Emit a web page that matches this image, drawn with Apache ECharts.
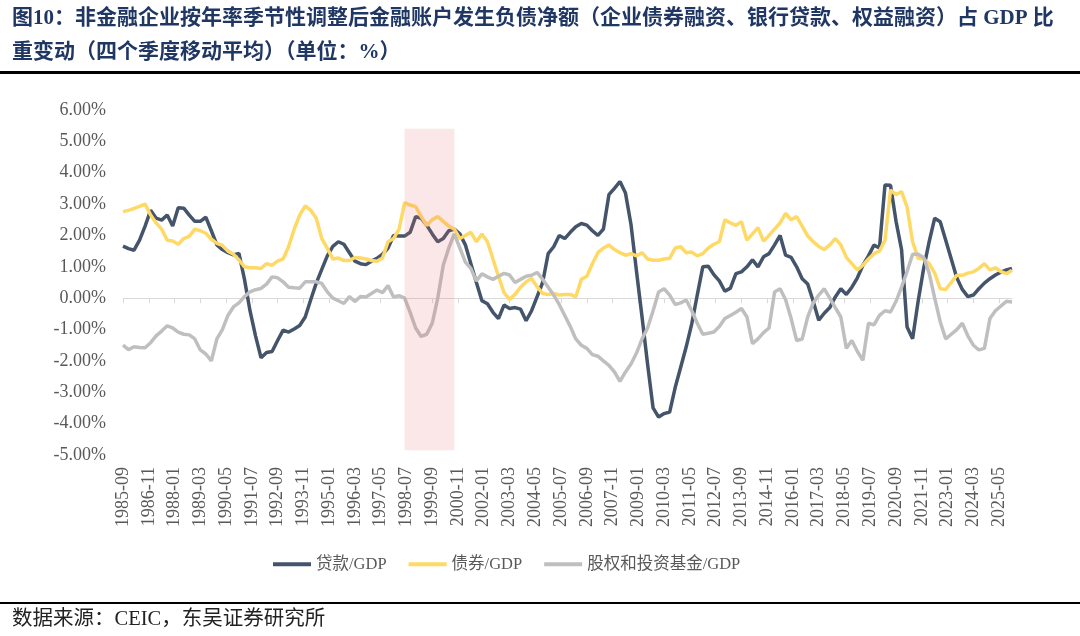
<!DOCTYPE html>
<html>
<head>
<meta charset="utf-8">
<script src="https://cdn.jsdelivr.net/npm/echarts@6/dist/echarts.min.js"></script>
<style>
  html, body { margin: 0; padding: 0; background: #fff; }
  #main { width: 1080px; height: 636px; }
</style>
</head>
<body>
<div id="main"></div>
<script>
// quarterly values (%), 1985-09 ... 2025-12, four-quarter moving average
const loanGdp = [
  1.66, 1.58, 1.53, 1.85, 2.3, 2.8, 2.55, 2.49, 2.65, 2.3,
  2.88, 2.87, 2.65, 2.45, 2.45, 2.58, 2.15, 1.7, 1.55, 1.45,
  1.38, 1.43, 0.6, -0.4, -1.2, -1.9, -1.73, -1.7, -1.35, -1.02,
  -1.08, -0.98, -0.87, -0.6, -0.05, 0.48, 0.92, 1.35, 1.65, 1.8,
  1.72, 1.45, 1.18, 1.1, 1.07, 1.18, 1.27, 1.4, 1.6, 2.0,
  1.98, 1.98, 2.1, 2.6, 2.55, 2.33, 2.05, 1.8, 1.9, 2.15,
  2.2, 2.05, 1.7, 1.1, 0.5, -0.08, -0.18, -0.45, -0.65, -0.22,
  -0.33, -0.3, -0.35, -0.72, -0.4, 0.05, 0.5, 1.42, 1.64, 2.0,
  1.9, 2.1, 2.28, 2.38, 2.33, 2.15, 2.0, 2.2, 3.3, 3.5,
  3.72, 3.35, 2.35, 0.85, -0.6, -2.1, -3.5, -3.79, -3.68, -3.63,
  -2.85, -2.2, -1.55, -0.82, 0.1, 1.0, 1.02, 0.75, 0.55, 0.22,
  0.32, 0.78, 0.84, 1.0, 1.22, 1.0, 1.32, 1.42, 1.7, 2.0,
  1.37, 1.3, 1.0, 0.62, 0.45, -0.1, -0.7, -0.48, -0.3, 0.04,
  0.3, 0.12, 0.35, 0.65, 1.05, 1.35, 1.69, 1.6, 3.61, 3.6,
  2.45, 1.55, -0.92, -1.29, -0.1, 0.95, 1.8, 2.55, 2.44, 1.85,
  1.25, 0.65, 0.28, 0.05, 0.1, 0.3, 0.48, 0.62, 0.74, 0.83,
  0.9, 0.95
];
const bondGdp = [
  2.76, 2.8, 2.86, 2.93, 3.0, 2.65, 2.4, 2.2, 1.85, 1.82,
  1.72, 1.9, 1.97, 2.2, 2.15, 2.07, 1.88, 1.75, 1.68, 1.5,
  1.4, 1.22, 1.0, 0.97, 0.97, 0.95, 1.1, 1.05, 1.18, 1.25,
  1.65, 2.2, 2.65, 2.94, 2.8, 2.55, 1.9, 1.59, 1.25, 1.28,
  1.2, 1.2, 1.3, 1.28, 1.25, 1.2, 1.18, 1.28, 1.8, 1.9,
  2.2, 3.05, 2.97, 2.92, 2.6, 2.32, 2.5, 2.6, 2.45, 2.3,
  2.2, 1.9, 2.0, 2.1, 1.8, 2.05, 1.8, 1.25, 0.7, 0.18,
  -0.04, 0.12, 0.35, 0.52, 0.63, 0.36, 0.15, 0.12, 0.15, 0.1,
  0.12, 0.12, 0.04, 0.6, 0.7, 1.1, 1.45, 1.6, 1.69, 1.55,
  1.45, 1.37, 1.42, 1.35, 1.45, 1.25, 1.21, 1.21, 1.25, 1.27,
  1.6, 1.64, 1.45, 1.47, 1.35, 1.42, 1.6, 1.72, 1.8, 2.5,
  2.4, 2.32, 2.44, 1.85, 2.05, 2.25, 1.82, 2.0, 2.2, 2.4,
  2.7, 2.5, 2.6, 2.3, 1.98, 1.8, 1.65, 1.55, 1.7, 1.9,
  1.7, 1.3, 1.1, 0.9, 1.05, 1.25, 1.42, 1.5, 1.85, 3.45,
  3.3, 3.4, 2.9, 1.8, 1.27, 1.25, 1.1, 0.8, 0.3, 0.28,
  0.5, 0.73, 0.73, 0.8, 0.84, 0.95, 1.1, 0.9, 0.97, 0.85,
  0.78, 0.89
];
const equityGdp = [
  -1.5, -1.64, -1.55, -1.57, -1.58, -1.42, -1.2, -1.05, -0.88, -0.95,
  -1.08, -1.15, -1.17, -1.3, -1.65, -1.78, -2.0, -1.3, -1.0, -0.55,
  -0.28, -0.15, 0.05, 0.2, 0.27, 0.31, 0.45, 0.68, 0.65, 0.52,
  0.35, 0.33, 0.32, 0.52, 0.52, 0.52, 0.47, 0.2, 0.0, -0.08,
  -0.17, 0.05, -0.1, 0.05, 0.04, 0.15, 0.26, 0.18, 0.4, 0.04,
  0.08, 0.0, -0.45, -0.95, -1.22, -1.15, -0.8, 0.0, 1.05, 1.6,
  2.05, 1.6, 1.15, 0.95, 0.55, 0.78, 0.68, 0.6, 0.7, 0.79,
  0.74, 0.5, 0.6, 0.7, 0.73, 0.82, 0.6, 0.35, 0.1, -0.2,
  -0.55, -0.9, -1.3, -1.5, -1.6, -1.8, -1.85, -2.0, -2.14, -2.35,
  -2.65, -2.35, -2.1, -1.75, -1.3, -0.95, -0.4, 0.2, 0.3, 0.1,
  -0.2, -0.15, -0.06, -0.4, -0.8, -1.15, -1.12, -1.08, -0.9, -0.65,
  -0.55, -0.45, -0.33, -0.6, -1.45, -1.3, -1.1, -0.95, 0.2, 0.3,
  -0.05, -0.65, -1.35, -1.3, -0.6, -0.15, 0.1, 0.3, 0.0, -0.3,
  -0.6, -1.6, -1.35, -1.7, -1.98, -0.8, -0.85, -0.55, -0.4, -0.44,
  -0.1, 0.35, 0.85, 1.4, 1.4, 1.3, 0.8, 0.0, -0.75, -1.3,
  -1.15, -1.0, -0.8, -1.2, -1.5, -1.65, -1.6, -0.65, -0.4, -0.25,
  -0.1, -0.12
];
const seriesNames = ['贷款/GDP', '债券/GDP', '股权和投资基金/GDP'];
const shadeRange = ['1998-06', '2000-09'];

// monthly category axis, 1985-09 .. 2025-12 (labels every 14 months)
const months = [];
for (let i = 0; i < 484; i++) {
  const t = 1985 * 12 + 8 + i;
  const y = Math.floor(t / 12), m = t % 12 + 1;
  months.push(y + '-' + (m < 10 ? '0' + m : m));
}
// quarterly points sit on every 3rd month
const toMonthly = (arr) => {
  const out = new Array(months.length).fill(null);
  arr.forEach((v, i) => { out[i * 3] = v; });
  return out;
};

const serif = "'Liberation Serif', 'Times New Roman', 'Noto Sans CJK SC', serif";
const chart = echarts.init(document.getElementById('main'));

const lineSeries = (name, arr, color) => ({
  name: name,
  type: 'line',
  xAxisIndex: 0,
  data: toMonthly(arr),
  connectNulls: true,
  showSymbol: false,
  symbol: 'none',
  lineStyle: { color: color, width: 3.5 },
  itemStyle: { color: color },
  animation: false
});

const option = {
  backgroundColor: '#fff',
  animation: false,
  textStyle: { fontFamily: serif },
  grid: { left: 123, right: 68, top: 110, bottom: 181 },
  legend: {
    left: 268, top: 551,
    icon: 'rect', itemWidth: 38, itemHeight: 4, itemGap: 22,
    textStyle: { fontSize: 16.5, color: '#595959', fontFamily: serif },
    data: seriesNames
  },
  xAxis: [
    {
      type: 'category', data: months, boundaryGap: false, position: 'bottom',
      axisLine: { show: false, onZero: false },
      axisTick: { show: false },
      axisLabel: {
        interval: 13, rotate: 90, margin: 12, fontSize: 18, color: '#595959',
        fontFamily: serif
      }
    },
    {
      type: 'category', data: months, boundaryGap: false, position: 'bottom',
      axisLine: { show: true, onZero: true, lineStyle: { color: '#d9d9d9', width: 1 } },
      axisTick: { show: true, interval: 13, length: 5, lineStyle: { color: '#d9d9d9' } },
      axisLabel: { show: false }
    }
  ],
  yAxis: {
    type: 'value', min: -5, max: 6, interval: 1,
    axisLine: { show: false }, axisTick: { show: false }, splitLine: { show: false },
    axisLabel: {
      margin: 17, fontSize: 18, color: '#595959', fontFamily: serif,
      formatter: (v) => v.toFixed(2) + '%'
    }
  },
  series: [
    lineSeries(seriesNames[0], loanGdp, '#44546a'),
    lineSeries(seriesNames[1], bondGdp, '#ffd966'),
    lineSeries(seriesNames[2], equityGdp, '#bfbfbf'),
    {
      name: 'shade', type: 'line', data: [], xAxisIndex: 0,
      markArea: {
        silent: true, z: 5,
        itemStyle: { color: 'rgba(232, 110, 110, 0.17)' },
        data: [[{ xAxis: shadeRange[0], yAxis: 5.4 }, { xAxis: shadeRange[1], yAxis: -4.85 }]]
      }
    }
  ],
  graphic: [
    {
      type: 'text', left: 12, top: 8,
      style: {
        text: '图10：非金融企业按年率季节性调整后金融账户发生负债净额（企业债券融资、银行贷款、权益融资）占 GDP 比',
        font: 'bold 21px ' + serif, fill: '#203764'
      }
    },
    {
      type: 'text', left: 12, top: 42,
      style: {
        text: '重变动（四个季度移动平均）（单位：%）',
        font: 'bold 21px ' + serif, fill: '#203764'
      }
    },
    { type: 'rect', left: 0, top: 71, shape: { width: 1080, height: 3 }, style: { fill: '#000' } },
    { type: 'rect', left: 0, top: 602, shape: { width: 1080, height: 2 }, style: { fill: '#000' } },
    {
      type: 'text', left: 12, top: 609,
      style: { text: '数据来源：CEIC，东吴证券研究所', font: '20.5px ' + serif, fill: '#222' }
    }
  ]
};

chart.setOption(option);
</script>
</body>
</html>
